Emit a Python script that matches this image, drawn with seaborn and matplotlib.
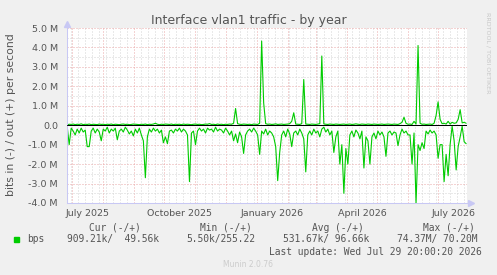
import pandas as pd
import matplotlib
matplotlib.use("Agg")
import matplotlib.pyplot as plt
import matplotlib.dates as mdates
from matplotlib.patches import Rectangle
from matplotlib.ticker import MultipleLocator
from matplotlib.transforms import blended_transform_factory
import seaborn as sns

# one sample every 2 days, values in M bits/s (in is drawn negative)
start_date = "2025-06-26"
bps_in = [
    -0.05, -1.0, -0.15, -0.3, -0.5, -0.2, -0.4, -0.15, -0.35, -0.25,
    -1.1, -1.1, -0.3, -0.15, -0.4, -0.2, -0.35, -0.8, -0.2, -0.3,
    -0.1, -0.4, -0.2, -0.3, -0.15, -0.75, -0.3, -0.2, -0.35, -0.1,
    -0.25, -0.45, -0.3, -0.55, -0.2, -0.4, -0.15, -0.5, -0.8, -2.7,
    -0.6, -0.2, -0.35, -0.15, -0.3, -0.2, -0.4, -0.25, -0.9, -0.6,
    -0.95, -0.3, -0.25, -0.4, -0.2, -0.3, -0.15, -0.35, -0.2, -0.3,
    -0.5, -2.9, -0.4, -0.3, -1.0, -0.3, -0.15, -0.3, -0.2, -0.4,
    -0.15, -0.25, -0.2, -0.35, -0.1, -0.3, -0.2, -0.25, -0.4, -0.15,
    -0.3, -0.5, -0.3, -0.8, -0.45, -0.9, -0.35, -0.6, -1.45, -0.5,
    -0.3, -0.2, -0.35, -0.15, -0.3, -0.5, -1.5, -0.3, -0.45, -0.2,
    -0.5, -0.3, -0.4, -0.6, -1.1, -2.85, -1.4, -0.5, -0.3, -0.6,
    -0.2, -0.45, -1.1, -0.4, -0.3, -0.5, -0.2, -0.4, -0.7, -2.4,
    -0.5, -0.3, -0.5, -0.2, -0.4, -0.3, -0.6, -0.2, -0.1, -0.35,
    -0.2, -0.5, -0.3, -1.4, -0.6, -0.3, -2.0, -1.0, -3.5, -1.2,
    -2.0, -0.5, -0.3, -0.6, -0.25, -0.4, -0.7, -0.3, -2.2, -0.6,
    -0.8, -2.0, -0.6, -0.4, -0.7, -0.3, -0.5, -0.35, -0.6, -1.6,
    -0.4, -0.3, -0.5, -0.35, -0.4, -1.05, -0.5, -0.2, -0.4, -0.3,
    -0.5, -0.5, -2.0, -0.4, -4.0, -1.0, -1.3, -0.9, -1.2, -0.3,
    -0.45, -0.25, -0.4, -0.3, -0.5, -1.7, -1.0, -1.0, -2.9, -1.5,
    -2.6, -1.0, -0.05, -0.8, -2.3, -1.1, -0.6, -0.05, -0.85, -0.95,
]
bps_out = [
    0.02, 0.05, 0.04, 0.06, 0.03, 0.05, 0.04, 0.07, 0.03, 0.05,
    0.04, 0.06, 0.03, 0.05, 0.04, 0.03, 0.06, 0.04, 0.05, 0.03,
    0.05, 0.04, 0.06, 0.03, 0.05, 0.04, 0.03, 0.05, 0.06, 0.04,
    0.05, 0.03, 0.04, 0.06, 0.05, 0.04, 0.03, 0.05, 0.04, 0.06,
    0.03, 0.05, 0.04, 0.06, 0.1, 0.05, 0.03, 0.05, 0.04, 0.06,
    0.05, 0.04, 0.06, 0.03, 0.05, 0.04, 0.05, 0.03, 0.06, 0.04,
    0.05, 0.04, 0.03, 0.05, 0.06, 0.04, 0.05, 0.03, 0.04, 0.06,
    0.05, 0.08, 0.04, 0.05, 0.03, 0.06, 0.04, 0.05, 0.03, 0.05,
    0.04, 0.06, 0.05, 0.1, 0.86, 0.08, 0.05, 0.04, 0.06, 0.05,
    0.04, 0.05, 0.03, 0.06, 0.05, 0.04, 0.1, 4.33, 1.15, 0.08,
    0.05, 0.06, 0.04, 0.05, 0.07, 0.04, 0.05, 0.06, 0.04, 0.05,
    0.06, 0.08, 0.2, 0.64, 0.06, 0.05, 0.04, 0.08, 2.35, 0.06,
    0.05, 0.04, 0.06, 0.05, 0.04, 0.06, 0.08, 3.56, 0.07, 0.05,
    0.04, 0.06, 0.05, 0.04, 0.06, 0.05, 0.04, 0.05, 0.06, 0.04,
    0.05, 0.06, 0.04, 0.05, 0.07, 0.05, 0.04, 0.06, 0.05, 0.04,
    0.06, 0.05, 0.04, 0.06, 0.05, 0.04, 0.05, 0.06, 0.04, 0.05,
    0.06, 0.05, 0.04, 0.06, 0.05, 0.04, 0.08, 0.15, 0.41, 0.1,
    0.05, 0.06, 0.04, 0.2, 0.06, 4.1, 0.1, 0.05, 0.06, 0.04,
    0.05, 0.06, 0.04, 0.1, 0.5, 1.2, 0.3, 0.08, 0.1, 0.06,
    0.2, 0.06, 0.15, 0.1, 0.12, 0.3, 0.8, 0.12, 0.15, 0.1,
]
month_labels = ["July 2025", "October 2025", "January 2026", "April 2026", "July 2026"]
label_dates = ["2025-07-16", "2025-10-16", "2026-01-16", "2026-04-16", "2026-07-16"]
y_ticks = [-4, -3, -2, -1, 0, 1, 2, 3, 4, 5]
legend_headers = ["Cur (-/+)", "Min (-/+)", "Avg (-/+)", "Max (-/+)"]
legend_values = ["909.21k/  49.56k", "5.50k/255.22", "531.67k/ 96.66k", "74.37M/ 70.20M"]

GREEN = "#00cc00"
RED_GRID = "#eaa8a8"
GRAY_GRID = "#d4d4d4"
AXIS = "#c8c8f4"
TXT = "#555555"

sns.set_style("white")
plt.rcParams["font.family"] = ["DejaVu Sans"]

W, H = 497, 275
fig = plt.figure(figsize=(W / 100, H / 100), dpi=100, facecolor="#f0f0f0")
ax = fig.add_axes([67 / W, (H - 203) / H, 400 / W, 175 / H])
ax.set_facecolor("white")

df = pd.DataFrame({
    "date": pd.date_range(start_date, periods=len(bps_in), freq="2D"),
    "in": bps_in,
    "out": bps_out,
})
sns.lineplot(data=df, x="date", y="in", ax=ax, color=GREEN, lw=0.8)
sns.lineplot(data=df, x="date", y="out", ax=ax, color=GREEN, lw=0.8)
ax.axhline(0, color="black", lw=0.75, zorder=3)

ax.set_xlim(pd.Timestamp("2025-06-25 20:00"), pd.Timestamp("2026-07-29 20:00"))
ax.set_ylim(-4, 5)
ax.set_xlabel("")
ax.set_ylabel("")

# grid: monthly red / weekly gray, 1M red / 0.5M gray
ax.xaxis.set_major_locator(mdates.MonthLocator())
ax.xaxis.set_minor_locator(mdates.WeekdayLocator(byweekday=mdates.MO))
ax.set_yticks(y_ticks)
ax.yaxis.set_minor_locator(MultipleLocator(0.5))
ax.set_axisbelow(True)
dot = (0, (1, 2))
ax.grid(which="minor", color=GRAY_GRID, lw=0.72, linestyle=dot)
ax.grid(which="major", color=RED_GRID, lw=0.72, linestyle=dot)

ax.set_yticklabels(["0.0" if v == 0 else f"{v:.1f} M" for v in y_ticks],
                   fontsize=6.8, color=TXT)
ax.tick_params(axis="y", which="major", length=2, color=RED_GRID, pad=4.5)
ax.tick_params(axis="x", which="major", length=3, color=RED_GRID, direction="out",
               labelbottom=False)
ax.tick_params(which="minor", length=0)

for side in ["top", "right"]:
    ax.spines[side].set_visible(False)
for side in ["left", "bottom"]:
    ax.spines[side].set_color(AXIS)
    ax.spines[side].set_linewidth(0.75)
ax.plot([1.0, 1.008], [0, 0], color=AXIS, lw=0.75, transform=ax.transAxes, clip_on=False)
ax.plot([0, 0], [1.0, 1.02], color=AXIS, lw=0.75, transform=ax.transAxes, clip_on=False)
ax.plot([1.01], [0], marker=">", ms=3.8, color=AXIS, mec=AXIS,
        transform=ax.transAxes, clip_on=False)
ax.plot([0], [1.022], marker="^", ms=3.8, color=AXIS, mec=AXIS,
        transform=ax.transAxes, clip_on=False)

# month labels, centred mid-month as rrdtool does
trans = blended_transform_factory(ax.transData, fig.transFigure)
for lab, d in zip(month_labels, label_dates):
    ax.text(mdates.date2num(pd.Timestamp(d)), 1 - 216 / H, lab, transform=trans,
            ha="center", va="baseline", fontsize=6.8, color=TXT, clip_on=False)

fig.text(248.4 / W, 1 - 24 / H, "Interface vlan1 traffic - by year",
         ha="center", va="baseline", fontsize=9, color=TXT)
fig.text(11 / W, 1 - 115 / H, "bits in (-) / out (+) per second", rotation=90,
         ha="center", va="center", fontsize=7.8, color=TXT)
fig.text(488 / W, 1 - 53 / H, "RRDTOOL / TOBI OETIKER", rotation=270,
         ha="center", va="center", fontsize=4.6, color="#c8c8c8")

# legend block
mono = "DejaVu Sans Mono"
for lab, x in zip(legend_headers, [89, 200, 311.7, 422.7]):
    fig.text(x / W, 1 - 227.7 / H, lab, ha="left", va="center",
             fontsize=6.9, family=mono, color=TXT)
fig.patches.append(Rectangle((14 / W, 1 - 242 / H), 5.3 / W, 5.3 / H,
                             transform=fig.transFigure, color=GREEN))
fig.text(27 / W, 1 - 239.3 / H, "bps", ha="left", va="center",
         fontsize=6.9, family=mono, color=TXT)
for val, x in zip(legend_values, [66.7, 186.7, 282.7, 396.7]):
    fig.text(x / W, 1 - 239.3 / H, val, ha="left", va="center",
             fontsize=6.9, family=mono, color=TXT)
fig.text(481.7 / W, 1 - 251.7 / H, "Last update: Wed Jul 29 20:00:20 2026",
         ha="right", va="center", fontsize=6.9, family=mono, color=TXT)
fig.text(248 / W, 1 - 264.3 / H, "Munin 2.0.76", ha="center", va="center",
         fontsize=5.5, color="#cccccc")

fig.savefig("out.png", dpi=100, facecolor=fig.get_facecolor())
